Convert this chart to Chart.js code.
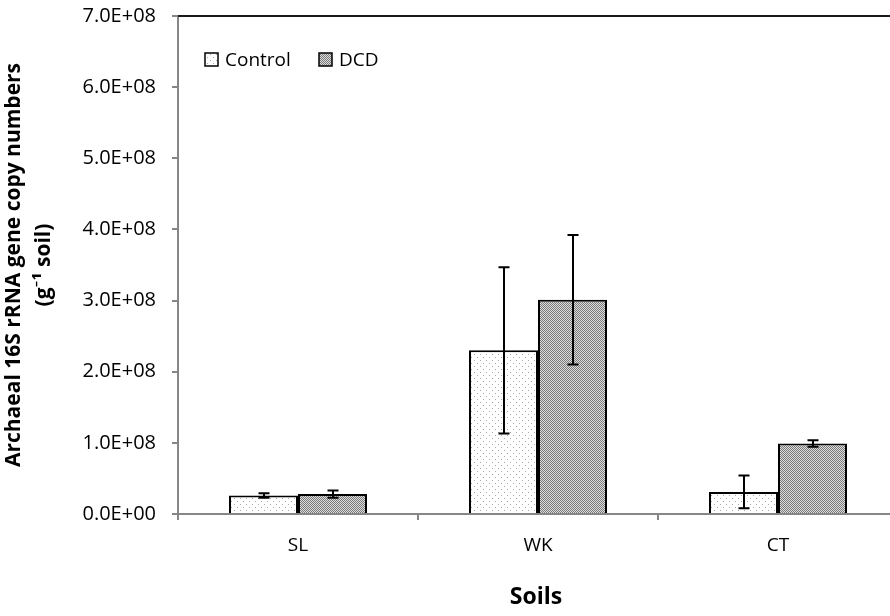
<!DOCTYPE html>
<html>
<head>
<meta charset="utf-8">
<script src="https://cdn.jsdelivr.net/npm/chart.js@4.4.1/dist/chart.umd.min.js"></script>
<style>
html,body{margin:0;padding:0;background:#fff;overflow:hidden;width:890px;height:616px;}
canvas{display:block;}
</style>
</head>
<body>
<canvas id="c" width="910" height="616"></canvas>
<script>
const categories = ['SL', 'WK', 'CT'];
const seriesNames = ['Control', 'DCD'];
const controlValues = [2.6e7, 2.30e8, 3.1e7];
const controlErrors = [3.0e6, 1.17e8, 2.3e7];
const dcdValues = [2.8e7, 3.01e8, 9.9e7];
const dcdErrors = [5.0e6, 0.91e8, 4.5e6];
const yTicks = [0, 1e8, 2e8, 3e8, 4e8, 5e8, 6e8, 7e8];
const yTitleLines = ['Archaeal 16S rRNA gene copy numbers', '(g\u207B\u00B9 soil)'];
const xTitle = 'Soils';

const FONT = '"Open Sans", Lato, sans-serif';
const AXIS_GRAY = '#868686';

function makePattern(kind) {
  const c = document.createElement('canvas');
  const ctx = c.getContext('2d');
  if (kind === 'dots') {
    c.width = 6; c.height = 6;
    ctx.fillStyle = '#ffffff'; ctx.fillRect(0, 0, 6, 6);
    ctx.fillStyle = '#a8a8a8';
    ctx.fillRect(0, 0, 1, 1);
    ctx.fillRect(3, 3, 1, 1);
  } else {
    c.width = 2; c.height = 2;
    ctx.fillStyle = '#dcdcdc'; ctx.fillRect(0, 0, 2, 2);
    ctx.fillStyle = '#7a7a7a';
    ctx.fillRect(0, 0, 1, 1);
    ctx.fillRect(1, 1, 1, 1);
  }
  return document.getElementById('c').getContext('2d').createPattern(c, 'repeat');
}
const patterns = [makePattern('dots'), makePattern('check')];

function fmtSci(v) {
  if (v === 0) return '0.0E+00';
  const e = Math.floor(Math.log10(Math.abs(v)) + 1e-9);
  const m = v / Math.pow(10, e);
  return m.toFixed(1) + 'E+' + String(e).padStart(2, '0');
}

const errorBars = {
  id: 'errorBars',
  afterDatasetsDraw(chart) {
    const ctx = chart.ctx;
    const y = chart.scales.y;
    const errs = [controlErrors, dcdErrors];
    ctx.save();
    ctx.strokeStyle = '#000';
    ctx.lineWidth = 2;
    chart.data.datasets.forEach((ds, di) => {
      const meta = chart.getDatasetMeta(di);
      meta.data.forEach((bar, i) => {
        const v = ds.data[i], e = errs[di][i];
        const yt = y.getPixelForValue(v + e), yb = y.getPixelForValue(v - e);
        const x = Math.round(bar.x);
        ctx.beginPath();
        ctx.moveTo(x, yt); ctx.lineTo(x, yb);
        ctx.moveTo(x - 5.5, yt); ctx.lineTo(x + 5.5, yt);
        ctx.moveTo(x - 5.5, yb); ctx.lineTo(x + 5.5, yb);
        ctx.stroke();
      });
    });
    ctx.restore();
  }
};

const decorations = {
  id: 'decorations',
  afterDraw(chart) {
    const ctx = chart.ctx;
    const a = chart.chartArea;
    ctx.save();
    ctx.strokeStyle = '#1a1a1a';
    ctx.lineWidth = 2;
    ctx.beginPath();
    ctx.moveTo(a.left, a.top); ctx.lineTo(chart.width, a.top);
    ctx.stroke();
    ctx.font = '19px ' + FONT;
    ctx.textBaseline = 'alphabetic';
    ctx.textAlign = 'left';
    const items = [{x: 205, tx: 225}, {x: 319, tx: 339}];
    seriesNames.forEach((n, i) => {
      ctx.fillStyle = patterns[i];
      ctx.fillRect(items[i].x, 53, 13, 13);
      ctx.strokeStyle = '#000';
      ctx.lineWidth = 1.5;
      ctx.strokeRect(items[i].x, 53, 13, 13);
      ctx.fillStyle = '#000';
      ctx.fillText(n, items[i].tx, 66);
    });
    ctx.font = 'bold 21px ' + FONT;
    ctx.textAlign = 'center';
    ctx.textBaseline = 'middle';
    ctx.fillStyle = '#000';
    const cy = (a.top + a.bottom) / 2;
    ctx.save();
    ctx.translate(14, cy);
    ctx.rotate(-Math.PI / 2);
    ctx.fillText(yTitleLines[0], 0, 0);
    ctx.restore();
    ctx.save();
    ctx.translate(44, cy);
    ctx.rotate(-Math.PI / 2);
    ctx.fillText(yTitleLines[1], 0, 0);
    ctx.restore();
    ctx.font = 'bold 23px ' + FONT;
    ctx.fillText(xTitle, 536, 597);
    ctx.restore();
  }
};

new Chart(document.getElementById('c'), {
  type: 'bar',
  data: {
    labels: categories,
    datasets: [
      { label: seriesNames[0], data: controlValues, backgroundColor: patterns[0], borderColor: '#000', borderWidth: 2, borderSkipped: 'bottom' },
      { label: seriesNames[1], data: dcdValues, backgroundColor: patterns[1], borderColor: '#000', borderWidth: 2, borderSkipped: 'bottom' }
    ]
  },
  options: {
    responsive: false,
    animation: false,
    devicePixelRatio: 1,
    categoryPercentage: 0.575,
    barPercentage: 1.0,
    layout: { padding: { top: 16, left: 0, right: 12, bottom: 0 } },
    plugins: { legend: { display: false }, tooltip: { enabled: false } },
    scales: {
      x: {
        afterFit(s) { s.height = 102; s.paddingLeft = 0; s.paddingRight = 0; },
        border: { color: AXIS_GRAY, width: 2 },
        grid: { offset: true, drawOnChartArea: false, drawTicks: true, tickLength: 6, color: AXIS_GRAY, lineWidth: 2 },
        ticks: { color: '#000', font: { family: FONT, size: 19 }, padding: 14 }
      },
      y: {
        min: 0, max: 7e8,
        afterFit(s) { s.width = 178; s.paddingTop = 0; s.paddingBottom = 0; },
        afterBuildTicks(s) { s.ticks = yTicks.map(v => ({ value: v })); },
        border: { color: AXIS_GRAY, width: 2 },
        grid: { drawOnChartArea: false, drawTicks: true, tickLength: 6, color: AXIS_GRAY, lineWidth: 2 },
        ticks: { color: '#000', font: { family: FONT, size: 20 }, padding: 16, callback: v => fmtSci(v) }
      }
    }
  },
  plugins: [errorBars, decorations]
});
</script>
</body>
</html>
